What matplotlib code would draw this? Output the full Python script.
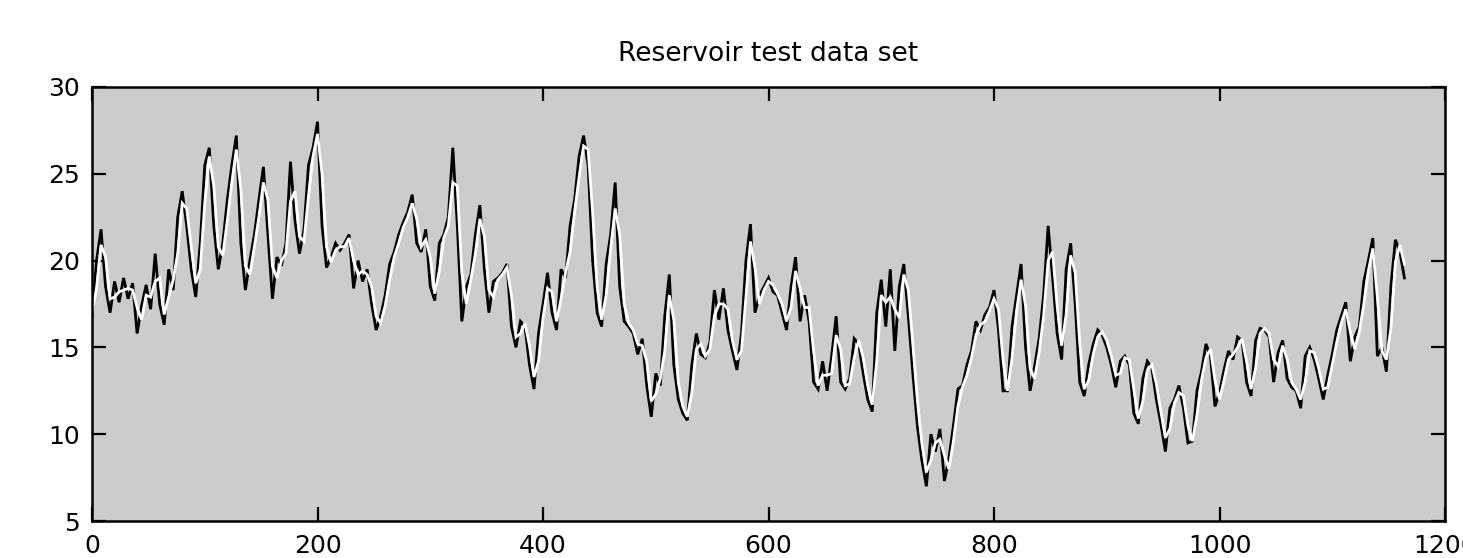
import numpy as np
import matplotlib
matplotlib.use("Agg")
import matplotlib.pyplot as plt

# Sample step of the series (time index)
step = 4

observed = [
    16.8, 20.0, 21.8, 18.5, 17.0, 18.8, 17.6, 19.0, 17.8, 18.7,
    15.8, 17.4, 18.6, 17.2, 20.4, 17.5, 16.3, 19.5, 18.3, 22.5,
    24.0, 22.0, 19.5, 17.9, 21.0, 25.5, 26.5, 22.0, 19.5, 21.0,
    23.5, 25.5, 27.2, 21.0, 18.3, 20.0, 21.5, 23.5, 25.4, 21.5,
    17.8, 20.2, 19.7, 21.0, 25.7, 22.3, 20.4, 21.8, 25.5, 26.5,
    28.0, 22.0, 19.6, 20.2, 21.0, 20.6, 21.0, 21.5, 18.4, 20.0,
    18.8, 19.5, 17.5, 16.0, 16.8, 18.0, 19.8, 20.5, 21.5, 22.2,
    22.8, 23.8, 21.0, 20.5, 21.8, 18.5, 17.7, 21.0, 21.5, 22.5,
    26.5, 22.0, 16.5, 18.5, 19.2, 21.5, 23.2, 19.5, 17.0, 18.8,
    19.0, 19.3, 19.8, 16.2, 15.0, 16.5, 16.2, 14.0, 12.6, 15.8,
    17.5, 19.3, 17.0, 16.0, 19.5, 19.0, 22.0, 23.5, 26.0, 27.2,
    25.5, 20.0, 17.0, 16.2, 19.8, 21.5, 24.5, 18.5, 16.5, 16.2,
    15.8, 14.6, 15.5, 12.8, 11.0, 13.5, 12.8, 16.8, 19.2, 14.0,
    12.0, 11.2, 10.8, 14.0, 15.8, 14.6, 14.4, 15.3, 18.3, 16.6,
    18.4, 16.0, 14.8, 13.7, 15.8, 20.0, 22.1, 17.0, 18.0, 18.5,
    19.0, 18.2, 18.0, 17.0, 16.0, 18.5, 20.2, 16.5, 18.0, 16.5,
    13.0, 12.6, 14.2, 12.5, 14.5, 16.8, 13.0, 12.6, 13.2, 15.5,
    15.2, 13.5, 12.0, 11.3, 17.0, 18.9, 16.2, 19.5, 14.8, 18.5,
    19.8, 16.8, 13.5, 10.5, 8.5, 7.0, 10.0, 9.0, 10.3, 7.3,
    8.6, 10.5, 12.6, 12.8, 14.0, 14.8, 16.5, 16.0, 16.9, 17.3,
    18.3, 16.0, 12.5, 12.5, 16.2, 18.0, 19.8, 15.0, 12.5, 13.9,
    15.5, 18.0, 22.0, 19.0, 15.8, 14.3, 19.5, 21.0, 17.5, 13.0,
    12.2, 14.0, 15.2, 16.0, 15.7, 15.0, 14.0, 12.7, 14.2, 14.5,
    14.0, 11.2, 10.6, 13.2, 14.2, 13.8, 12.0, 10.6, 9.0, 11.5,
    12.0, 12.8, 11.5, 9.5, 9.6, 12.5, 13.6, 15.2, 14.5, 11.6,
    12.4, 13.7, 14.8, 14.3, 15.6, 15.4, 13.0, 12.2, 15.4, 16.1,
    16.0, 15.6, 13.0, 14.7, 15.4, 13.2, 12.7, 12.5, 11.5, 14.5,
    15.0, 14.3, 13.2, 12.0, 13.4, 14.6, 16.0, 16.8, 17.6, 14.2,
    15.6, 16.2, 18.8, 20.0, 21.3, 14.5, 15.0, 13.6, 18.5, 21.2,
    20.5, 19.0,
]

predicted = [
    17.0, 18.4, 20.9, 20.2, 17.8, 17.9, 18.2, 18.3, 18.4, 18.3,
    17.3, 16.6, 18.0, 17.9, 18.8, 19.0, 16.9, 17.9, 18.9, 20.4,
    23.3, 23.0, 20.8, 18.7, 19.5, 23.3, 26.0, 24.3, 20.8, 20.3,
    22.3, 24.5, 26.4, 24.1, 19.7, 19.2, 20.8, 22.5, 24.5, 23.5,
    19.7, 19.0, 20.0, 20.4, 23.4, 24.0, 21.4, 21.1, 23.7, 26.0,
    27.3, 25.0, 20.8, 19.9, 20.6, 20.8, 20.8, 21.3, 20.0, 19.2,
    19.4, 19.2, 18.5, 16.8, 16.4, 17.4, 18.9, 20.2, 21.0, 21.9,
    22.5, 23.3, 22.4, 20.8, 21.2, 20.2, 18.1, 19.4, 21.3, 22.0,
    24.5, 24.3, 19.3, 17.5, 18.9, 20.4, 22.4, 21.4, 18.3, 17.9,
    18.9, 19.2, 19.6, 18.0, 15.6, 15.8, 16.4, 15.1, 13.3, 14.2,
    16.7, 18.4, 18.2, 16.5, 17.8, 19.3, 20.5, 22.8, 24.8, 26.6,
    26.4, 22.8, 18.5, 16.6, 18.0, 20.7, 23.0, 21.5, 17.5, 16.4,
    16.0, 15.2, 15.1, 14.2, 11.9, 12.3, 13.2, 14.8, 18.0, 16.6,
    13.0, 11.6, 11.0, 12.4, 14.9, 15.2, 14.5, 14.9, 16.8, 17.5,
    17.5, 17.2, 15.4, 14.3, 14.8, 17.9, 21.1, 19.6, 17.5, 18.3,
    18.8, 18.6, 18.1, 17.5, 16.5, 17.3, 19.4, 18.4, 17.3, 17.3,
    14.8, 12.8, 13.4, 13.4, 13.5, 15.7, 14.9, 12.8, 12.9, 14.4,
    15.4, 14.4, 12.8, 11.7, 14.2, 18.0, 17.6, 17.9, 17.2, 16.7,
    19.2, 18.3, 15.2, 12.0, 9.5, 7.8, 8.5, 9.5, 9.7, 8.8,
    8.0, 9.6, 11.6, 12.7, 13.4, 14.4, 15.7, 16.3, 16.5, 17.1,
    17.8, 17.2, 14.3, 12.5, 14.4, 17.1, 18.9, 17.4, 13.8, 13.2,
    14.7, 16.8, 20.0, 20.5, 17.4, 15.1, 16.9, 20.3, 19.3, 15.3,
    12.6, 13.1, 14.6, 15.6, 15.9, 15.4, 14.5, 13.4, 13.5, 14.4,
    14.3, 12.6, 10.9, 11.9, 13.7, 14.0, 12.9, 11.3, 9.8, 10.3,
    11.8, 12.4, 12.2, 10.5, 9.6, 11.1, 13.1, 14.4, 14.9, 13.1,
    12.0, 13.1, 14.3, 14.6, 15.0, 15.5, 14.2, 12.6, 13.8, 15.8,
    16.1, 15.8, 14.3, 13.9, 15.1, 14.3, 13.0, 12.6, 12.0, 13.0,
    14.8, 14.7, 13.8, 12.6, 12.7, 14.0, 15.3, 16.4, 17.2, 15.9,
    14.9, 15.9, 17.5, 19.4, 20.7, 17.9, 14.8, 14.3, 16.1, 19.9,
    20.9, 19.8,
]

x_ticks = [0, 200, 400, 600, 800, 1000, 1200]
y_ticks = [5, 10, 15, 20, 25, 30]
title_text = "Reservoir test data set"

t = np.arange(len(observed)) * step

plt.rcParams["font.family"] = ["DejaVu Sans"]

fig = plt.figure(figsize=(14.63, 5.58), dpi=100)
fig.patch.set_facecolor("white")
ax = fig.add_axes([0.0629, 0.0663, 0.9248, 0.7778])
ax.set_facecolor("#cccccc")

ax.plot(t, observed, color="black", lw=2.0, solid_joinstyle="miter")
ax.plot(t, predicted, color="white", lw=2.0, solid_joinstyle="miter")

ax.set_xlim(0, 1200)
ax.set_ylim(5, 30)
ax.set_xticks(x_ticks)
ax.set_yticks(y_ticks)
ax.tick_params(direction="in", length=10, width=1.6, top=True, right=True,
               labelsize=18, pad=9, colors="black")
for sp in ax.spines.values():
    sp.set_linewidth(1.8)

ax.set_title(title_text, fontsize=19, pad=19)

fig.savefig("out.png", dpi=100)
